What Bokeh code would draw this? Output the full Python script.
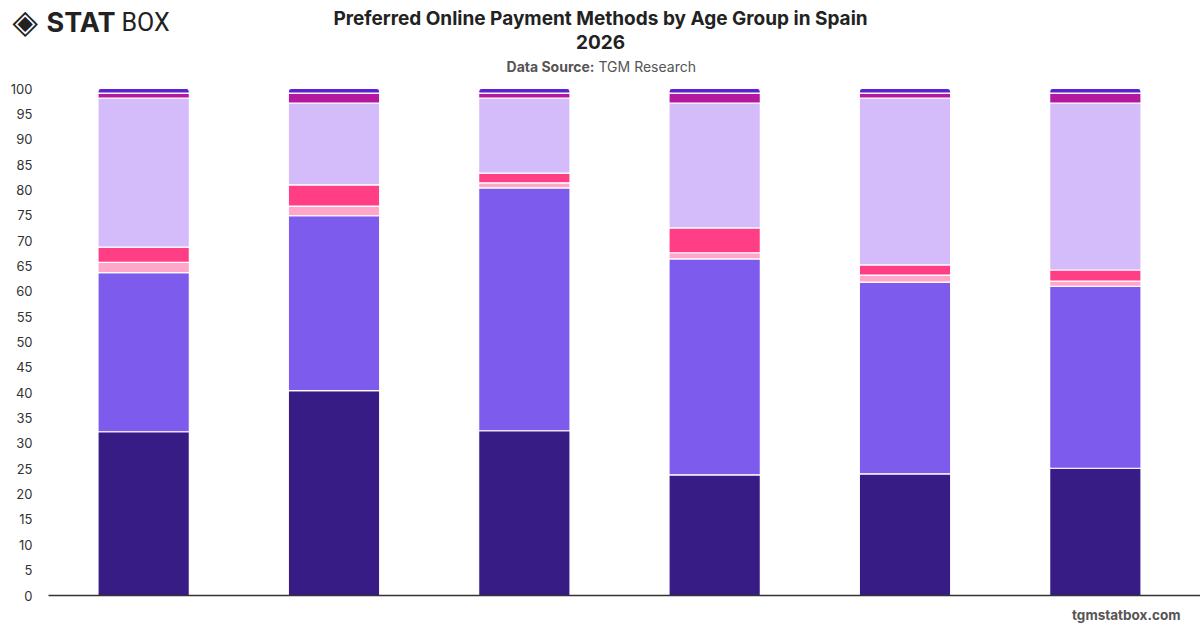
from bokeh.plotting import figure
from bokeh.models import ColumnDataSource, Range1d, Label
from bokeh.transform import stack
from bokeh.core.properties import value
from bokeh.embed import file_html
from bokeh.resources import INLINE

age_groups = ["18-24", "25-34", "35-44", "45-54", "55-64", "65+"]

series_names = ["Credit Card", "Debit Card", "Cash on Delivery", "Bank Transfer",
                "Digital Wallet", "Buy Now Pay Later", "Other"]
credit_card = [32.3, 40.4, 32.5, 23.8, 24.0, 25.1]
debit_card = [31.4, 34.5, 47.9, 42.6, 37.8, 35.9]
cash_on_delivery = [2.0, 1.9, 1.0, 1.2, 1.4, 1.0]
bank_transfer = [3.0, 4.2, 1.9, 4.9, 2.0, 2.2]
digital_wallet = [29.4, 16.1, 14.8, 24.6, 32.9, 32.9]
buy_now_pay_later = [1.0, 2.0, 1.0, 2.0, 1.0, 2.0]
other = [0.9, 0.9, 0.9, 0.9, 0.9, 0.9]

y_ticks = [0, 5, 10, 15, 20, 25, 30, 35, 40, 45, 50, 55, 60, 65, 70, 75, 80, 85, 90, 95, 100]

colors = ["#381c85", "#7d5ced", "#ffa6c9", "#ff3e86", "#d4bbf9", "#b3189f", "#5b21d6"]

W, H = 1200, 628
FL, FR, FT, FB = 48, 1190, 88, 595  # chart area in canvas px
n = len(age_groups)
ux = (FR - FL) / n          # px per category
uy = (FB - FT) / 100.0      # px per y unit

keys = ["s0", "s1", "s2", "s3", "s4", "s5", "s6"]
data = dict(age=age_groups, xc=[i + 0.5 for i in range(n)])
for k, vals in zip(keys, [credit_card, debit_card, cash_on_delivery, bank_transfer,
                          digital_wallet, buy_now_pay_later, other]):
    data[k] = vals
src = ColumnDataSource(data)

x_start = -FL / ux
x_end = n + (W - FR) / ux
y_start = -(H - FB) / uy
y_end = 100 + FT / uy

p = figure(width=W, height=H, x_range=Range1d(x_start, x_end), y_range=Range1d(y_start, y_end),
           output_backend="svg", toolbar_location=None,
           x_axis_location=None, y_axis_location=None,
           min_border=0, min_border_left=0, min_border_right=0, min_border_top=0, min_border_bottom=0)
p.outline_line_color = None
p.background_fill_color = "white"
p.border_fill_color = "white"
p.xgrid.grid_line_color = None
p.ygrid.grid_line_color = None

for i, k in enumerate(keys):
    kw = {}
    if i == len(keys) - 1:
        kw["border_radius"] = (3, 3, 0, 0)
    p.vbar(x="xc", width=0.48, bottom=stack(*keys[:i]) if i > 0 else 0,
           top=stack(*keys[:i + 1]), source=src, fill_color=colors[i],
           line_color="white", line_width=1.2, **kw)

# baseline (x axis)
p.segment(x0=[0], y0=[0], x1=[x_end], y1=[0], line_color="#333333", line_width=1.5)

# y tick labels
p.text(x=[-16 / ux] * len(y_ticks), y=y_ticks, text=[str(t) for t in y_ticks],
       text_font=value("Inter"), text_font_size="13px", text_color="#333333",
       text_align="right", text_baseline="middle")


def add_label(text, cx, cy, size, bold=False, color="#222222", align="left", font="Inter"):
    p.add_layout(Label(x=cx, y=H - cy, x_units="screen", y_units="screen", text=text,
                       text_font=font, text_font_size=size,
                       text_font_style="bold" if bold else "normal",
                       text_color=color, text_align=align, text_baseline="middle"))


add_label("Preferred Online Payment Methods by Age Group in Spain", 600, 18, "19px", True, "#222222", "center")
add_label("2026", 600, 41, "19px", True, "#222222", "center")
add_label("Data Source:", 594, 66, "14px", True, "#555555", "right")
add_label("TGM Research", 598, 66, "14px", False, "#555555", "left")
add_label("tgmstatbox.com", 1180, 614, "13.5px", True, "#555555", "right")

# logo
add_label("\u25c8", 12, 21, "33px", True, "#222222", "left", "DejaVu Sans")
add_label("STAT", 46, 22, "27px", True, "#222222", "left")
add_label("BOX", 121, 22, "25px", False, "#222222", "left", "Roboto")

open("out.html", "w").write(file_html(p, INLINE))
